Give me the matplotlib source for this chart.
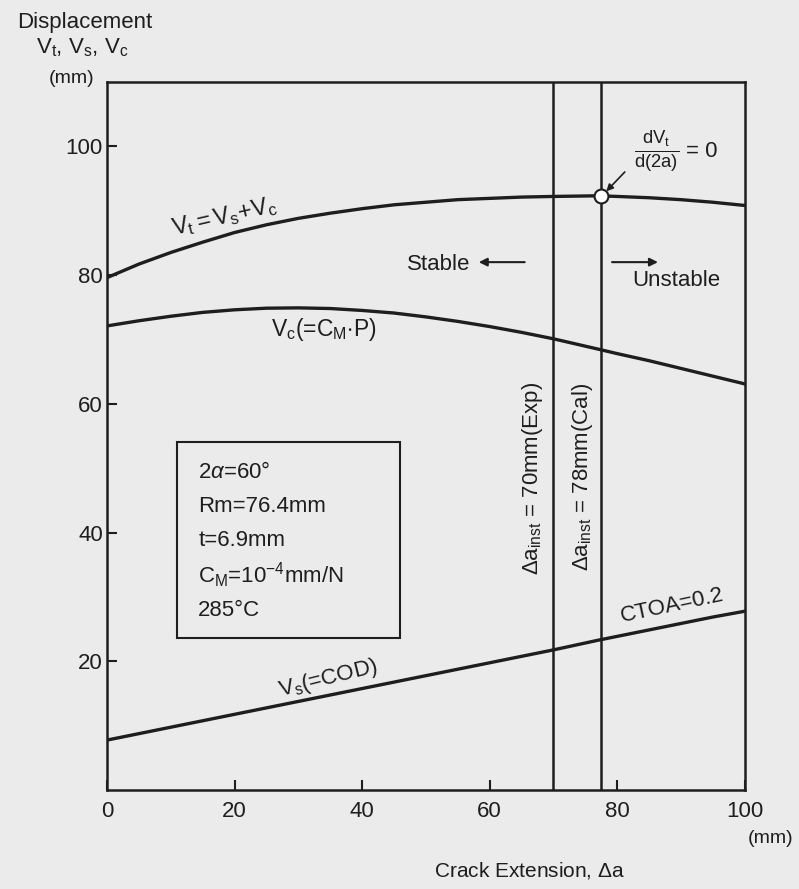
import numpy as np
import matplotlib
matplotlib.use("Agg")
import matplotlib.pyplot as plt
from matplotlib.patches import Rectangle

plt.rcParams['font.family'] = ['Liberation Sans', 'DejaVu Sans']
plt.rcParams['mathtext.fontset'] = 'custom'
plt.rcParams['mathtext.rm'] = 'Liberation Sans'
plt.rcParams['mathtext.it'] = 'Liberation Sans:italic'
plt.rcParams['mathtext.bf'] = 'Liberation Sans:bold'

# crack extension (mm) and displacements
crack_ext = [0, 5, 10, 15, 20, 25, 30, 35, 40, 45, 50, 55, 60, 65, 70, 77,
             80, 85, 90, 95, 100]
v_total = [79.6, 81.7, 83.5, 85.1, 86.6, 87.8, 88.8, 89.6, 90.3, 90.9, 91.3,
           91.7, 91.9, 92.1, 92.2, 92.3, 92.2, 92.0, 91.7, 91.3, 90.8]
v_cm = [72.1, 72.9, 73.6, 74.2, 74.6, 74.85, 74.9, 74.8, 74.5, 74.1, 73.5,
        72.8, 72.0, 71.1, 70.1, 68.5, 67.8, 66.7, 65.5, 64.3, 63.1]
v_cod = [7.8, 8.8, 9.8, 10.8, 11.8, 12.8, 13.8, 14.8, 15.8, 16.8, 17.8,
         18.8, 19.8, 20.8, 21.8, 23.3, 23.9, 24.9, 25.9, 26.9, 27.8]

a_exp = 70.0
a_cal = 77.5
v_crit = 92.3

x_ticks = [0, 20, 40, 60, 80, 100]
y_ticks = [20, 40, 60, 80, 100]

ink = '#1e1e1e'
paper = '#ebebeb'

fig = plt.figure(figsize=(7.99, 8.89), dpi=100, facecolor=paper)
ax = fig.add_axes([0.134, 0.111, 0.798, 0.797], facecolor=paper)

ax.plot(crack_ext, v_total, color=ink, lw=2.4)
ax.plot(crack_ext, v_cm, color=ink, lw=2.4)
ax.plot(crack_ext, v_cod, color=ink, lw=2.4)

ax.axvline(a_exp, color=ink, lw=1.8)
ax.axvline(a_cal, color=ink, lw=1.8)

ax.plot([a_cal], [v_crit], 'o', ms=10, mfc='white', mec=ink, mew=1.5, zorder=5)

ax.set_xlim(0, 100)
ax.set_ylim(0, 110)
ax.set_xticks(x_ticks)
ax.set_yticks(y_ticks)
ax.tick_params(direction='in', length=7, width=1.5, colors=ink,
               labelsize=16, pad=3)
ax.tick_params(axis='x', pad=8)
for s in ax.spines.values():
    s.set_linewidth(1.8)
    s.set_color(ink)

# curve labels
ax.text(18.5, 89.1, r'V$_\mathrm{t}$$=$V$_\mathrm{s}$$+$V$_\mathrm{c}$',
        rotation=13, ha='center', va='center', fontsize=17, color=ink)
ax.text(34, 71.5, r'V$_\mathrm{c}$(=C$_\mathrm{M}$$\cdot$P)',
        ha='center', va='center', fontsize=16.5, color=ink)
ax.text(34.6, 17.4, r'V$_\mathrm{s}$(=COD)', rotation=14,
        ha='center', va='center', fontsize=16, color=ink)
ax.text(88.6, 28.7, 'CTOA=0.2', rotation=12,
        ha='center', va='center', fontsize=16, color=ink)

# vertical instability lines labels
ax.text(66.8, 48.4, r'$\Delta$a$_\mathrm{inst}$ = 70mm(Exp)', rotation=90,
        ha='center', va='center', fontsize=16, color=ink)
ax.text(74.5, 48.7, r'$\Delta$a$_\mathrm{inst}$ = 78mm(Cal)', rotation=90,
        ha='center', va='center', fontsize=16, color=ink)

# stability condition
ax.text(86.2, 99.1, r'$\frac{\mathrm{dV_t}}{\mathrm{d(2a)}}$',
        ha='center', va='center', fontsize=19, color=ink)
ax.text(90.8, 99.1, '= 0', ha='left', va='center', fontsize=16, color=ink)
ax.annotate('', xy=(78.3, 93.0), xytext=(81.2, 96.0),
            arrowprops=dict(arrowstyle='-|>', color=ink, lw=1.2,
                            mutation_scale=10, shrinkA=0, shrinkB=0))

ax.text(57, 81.6, 'Stable', ha='right', va='center', fontsize=16, color=ink)
ax.annotate('', xy=(58.3, 82.0), xytext=(65.5, 82.0),
            arrowprops=dict(arrowstyle='-|>', color=ink, lw=1.5,
                            mutation_scale=12, shrinkA=0, shrinkB=0))
ax.annotate('', xy=(86.4, 82.0), xytext=(79.2, 82.0),
            arrowprops=dict(arrowstyle='-|>', color=ink, lw=1.5,
                            mutation_scale=12, shrinkA=0, shrinkB=0))
ax.text(82.3, 79.2, 'Unstable', ha='left', va='center', fontsize=16, color=ink)

# condition box
ax.add_patch(Rectangle((0.11, 0.2147), 0.349, 0.2768, transform=ax.transAxes,
                       fill=False, ec=ink, lw=1.5))
box_lines = [r'2$\alpha$=60°', 'Rm=76.4mm', 't=6.9mm',
             r'C$_\mathrm{M}$=10$^{-4}$mm/N', '285°C']
box_y = [49.4, 44.1, 38.8, 33.4, 27.9]
for line, yy in zip(box_lines, box_y):
    ax.text(14.3, yy, line, ha='left', va='center', fontsize=16, color=ink)

# axis titles
fig.text(0.106, 0.975, 'Displacement', ha='center', va='center', fontsize=16, color=ink)
fig.text(0.103, 0.946, r'V$_\mathrm{t}$, V$_\mathrm{s}$, V$_\mathrm{c}$',
         ha='center', va='center', fontsize=16, color=ink)
fig.text(0.09, 0.912, '(mm)', ha='center', va='center', fontsize=14, color=ink)
fig.text(0.964, 0.057, '(mm)', ha='center', va='center', fontsize=14, color=ink)
fig.text(0.663, 0.021, r'Crack Extension, $\Delta$a', ha='center', va='center',
         fontsize=15, color=ink)

fig.savefig('out.png', dpi=100, facecolor=paper)
